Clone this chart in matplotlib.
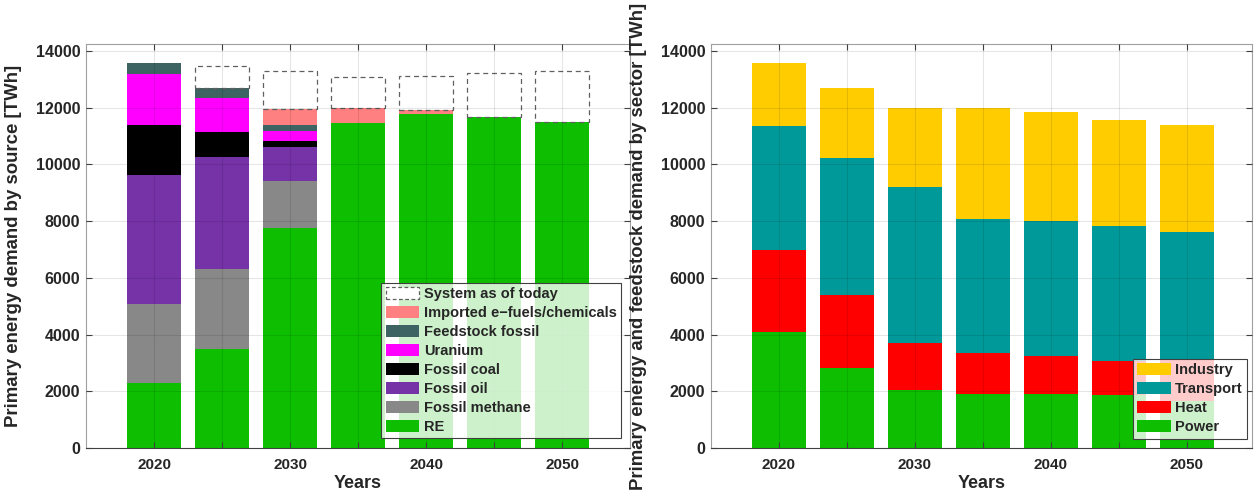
import numpy as np
import matplotlib
matplotlib.use('Agg')
from matplotlib import pyplot as plt
from matplotlib.patches import Patch

plt.rcParams['font.family'] = ['Liberation Sans', 'DejaVu Sans']
plt.rcParams['font.weight'] = 'bold'
plt.rcParams['text.color'] = '#262626'
plt.rcParams['axes.labelcolor'] = '#262626'
plt.rcParams['axes.labelweight'] = 'bold'

years = [2020, 2025, 2030, 2035, 2040, 2045, 2050]
tick_labels = ['2020', '', '2030', '', '2040', '', '2050']

# primary energy demand by source [TWh]
re = [2280, 3490, 7760, 11450, 11770, 11660, 11480]
fossil_methane = [2805, 2810, 1660, 0, 0, 0, 0]
fossil_oil = [4545, 3970, 1175, 0, 0, 0, 0]
fossil_coal = [1760, 860, 220, 0, 0, 0, 0]
uranium = [1790, 1200, 350, 0, 0, 0, 0]
feedstock_fossil = [400, 350, 220, 0, 0, 0, 0]
imported = [0, 0, 580, 520, 140, 0, 0]
system_today = [13580, 13460, 13300, 13065, 13110, 13205, 13295]

# primary energy and feedstock demand by sector [TWh]
power = [4080, 2820, 2045, 1915, 1905, 1860, 1670]
heat = [2900, 2560, 1655, 1445, 1335, 1205, 1470]
transport = [4360, 4830, 5510, 4710, 4760, 4770, 4470]
industry = [2240, 2480, 2770, 3910, 3850, 3725, 3785]

src_series = [
    ('RE', re, '#0dbf00'),
    ('Fossil methane', fossil_methane, '#888888'),
    ('Fossil oil', fossil_oil, '#7633a8'),
    ('Fossil coal', fossil_coal, '#000000'),
    ('Uranium', uranium, '#ff00ff'),
    ('Feedstock fossil', feedstock_fossil, '#3d6363'),
    ('Imported e\u2212fuels/chemicals', imported, '#ff8080'),
]
sec_series = [
    ('Power', power, '#0dbf00'),
    ('Heat', heat, '#ff0000'),
    ('Transport', transport, '#009999'),
    ('Industry', industry, '#ffcc00'),
]

W, H = 1254, 499
fig = plt.figure(figsize=(W / 100, H / 100), dpi=100)
ax1 = fig.add_axes([86 / W, (H - 448) / H, 544 / W, 404 / H])
ax2 = fig.add_axes([711 / W, (H - 448) / H, 541 / W, 404 / H])


def style_axes(ax, xmax):
    ax.set_xlim(2015, xmax)
    ax.set_ylim(0, 14240)
    ax.set_xticks(years)
    ax.set_xticklabels(tick_labels)
    ax.set_yticks(np.arange(0, 14001, 2000))
    ax.set_axisbelow(False)
    ax.grid(True, color='black', alpha=0.1, linewidth=0.8)
    ax.tick_params(direction='in', top=True, right=True, length=4,
                   width=0.8, color='#404040', labelsize=11.5,
                   labelcolor='#262626')
    ax.tick_params(axis='x', pad=7, labelsize=11)
    ax.tick_params(axis='y', pad=4)
    for s in ['left', 'top', 'right']:
        ax.spines[s].set_color('#a0a0a0')
    ax.spines['bottom'].set_color('#404040')
    ax.set_xlabel('Years', fontsize=13, labelpad=2)


def style_legend(leg):
    fr = leg.get_frame()
    fr.set_alpha(None)
    fr.set_facecolor((1, 1, 1, 0.8))
    fr.set_edgecolor('#404040')
    fr.set_linewidth(0.8)


leg_kw = dict(loc='upper right', bbox_transform=fig.transFigure,
              borderaxespad=0, fontsize=10.5, labelspacing=0.33,
              handlelength=2.3, handleheight=0.9, handletextpad=0.3,
              borderpad=0.3, fancybox=False)

# left: by source
bottom = np.zeros(len(years))
handles = []
for name, vals, col in src_series:
    vals = np.array(vals, dtype=float)
    ax1.bar(years, vals, width=4, bottom=bottom, color=col, linewidth=0)
    bottom += vals
    handles.append(Patch(facecolor=col, label=name))
gap = np.array(system_today) - bottom
mask = gap > 1
ax1.bar(np.array(years)[mask], gap[mask], width=4, bottom=bottom[mask],
        facecolor='none', edgecolor='#606060', linestyle=(0, (4, 3)),
        linewidth=0.9)
handles.append(Patch(facecolor='white', edgecolor='#606060',
                     linestyle=(0, (3, 2)), linewidth=0.9,
                     label='System as of today'))
style_axes(ax1, 2055)
ax1.set_ylabel('Primary energy demand by source [TWh]', fontsize=13.4)
ax1.yaxis.set_label_coords(-0.118, 0.5)

leg1 = ax1.legend(handles=handles[::-1],
                  bbox_to_anchor=(621 / W, 1 - 283 / H), **leg_kw)
style_legend(leg1)

# right: by sector
bottom = np.zeros(len(years))
handles = []
for name, vals, col in sec_series:
    vals = np.array(vals, dtype=float)
    ax2.bar(years, vals, width=4, bottom=bottom, color=col, linewidth=0)
    bottom += vals
    handles.append(Patch(facecolor=col, label=name))
style_axes(ax2, 2015 + 541 / 13.6)
ax2.set_ylabel('Primary energy and feedstock demand by sector [TWh]',
               fontsize=13.4)
ax2.yaxis.set_label_coords(-0.118, 0.5)

leg2 = ax2.legend(handles=handles[::-1],
                  bbox_to_anchor=(1247 / W, 1 - 359 / H), **leg_kw)
style_legend(leg2)

fig.savefig('out.png', dpi=100)
